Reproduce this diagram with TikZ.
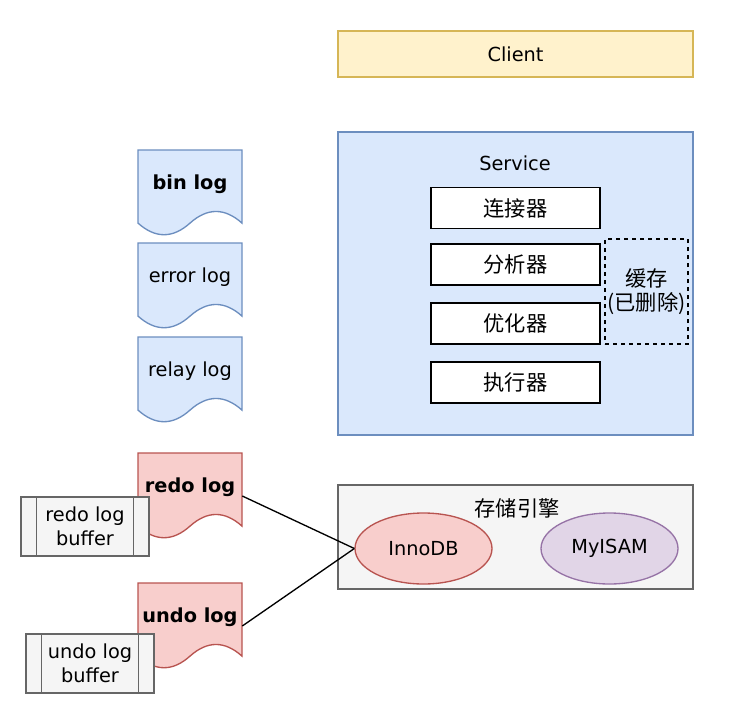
\documentclass[tikz,border=0pt]{standalone}
\usepackage{fontspec}
\setmainfont{DejaVu Sans}
\newfontfamily\cjk[Scale=1.1]{Noto Sans CJK SC}
\usetikzlibrary{shapes.geometric}
\definecolor{yelfill}{HTML}{FFF2CC}
\definecolor{yeldraw}{HTML}{D6B656}
\definecolor{bluefill}{HTML}{DAE8FC}
\definecolor{bluedraw}{HTML}{6C8EBF}
\definecolor{redfill}{HTML}{F8CECC}
\definecolor{reddraw}{HTML}{B85450}
\definecolor{grayfill}{HTML}{F5F5F5}
\definecolor{graydraw}{HTML}{666666}
\definecolor{purfill}{HTML}{E1D5E7}
\definecolor{purdraw}{HTML}{9673A6}

\begin{document}
\begin{tikzpicture}[x=0.75pt,y=-0.75pt]
\tikzstyle{every node}+=[inner sep=0pt, font=\fontsize{14.5}{18}\selectfont]
\tikzstyle{wide}=[rectangle, line width=1pt, minimum width=266.25pt]
\tikzstyle{stage}=[rectangle, draw=black, fill=white, line width=1pt, minimum width=126.75pt, minimum height=30.75pt]
\tikzstyle{bluedoc}=[draw=bluedraw, fill=bluefill, line width=1pt]
\tikzstyle{reddoc}=[draw=reddraw, fill=redfill, line width=1pt]
\tikzstyle{docbox}=[rectangle, minimum width=78pt, minimum height=64.5pt]
\tikzstyle{logbuf}=[rectangle, draw=graydraw, fill=grayfill, line width=1pt, minimum width=96pt, minimum height=44.25pt, align=center]
\tikzstyle{engine}=[ellipse, line width=1pt, minimum width=102.75pt, minimum height=53.25pt]
\tikzstyle{link}=[draw=black, line width=1pt]
\useasboundingbox (0,0) rectangle (731,710);

% client and service layer
\node[wide, draw=yeldraw, fill=yelfill, minimum height=34.5pt] (client) at (515.5,54) {Client};
\node[wide, draw=bluedraw, fill=bluefill, minimum height=227.25pt] (service) at (515.5,283.5) {};
\node (servicetxt) at (515,163) {Service};
\node[stage] (conn) at (515.5,208) {\cjk 连接器};
\node[stage] (parse) at (515.5,264.5) {\cjk 分析器};
\node[stage] (optim) at (515.5,323.5) {\cjk 优化器};
\node[stage] (exec) at (515.5,382.5) {\cjk 执行器};
\node[rectangle, draw=black, dashed, line width=1pt, minimum width=62.25pt, minimum height=78.75pt, align=center] (cache) at (646.5,291.5) {\cjk 缓存\\\cjk (已删除)};

% storage engines
\node[wide, draw=graydraw, fill=grayfill, minimum height=78pt] (storage) at (515.5,537) {};
\node (storagetxt) at (517,508) {\cjk 存储引擎};
\node[engine, draw=reddraw, fill=redfill] (innodb) at (423.5,548.5) {InnoDB};
\node[engine, draw=purdraw, fill=purfill] (myisam) at (609.5,548.5) {MyISAM};

% log files
\foreach \nm/\t/\sty/\txt in {binlog/150/bluedoc/\textbf{bin log}, errorlog/243/bluedoc/error log,
  relaylog/337/bluedoc/relay log, redo/453/reddoc/\textbf{redo log}, undo/583/reddoc/\textbf{undo log}} {
  \draw[\sty] (138,\t) -- (242,\t) -- (242,\t+73.1)
    .. controls (224.67,\t+57.6) and (207.33,\t+57.6) .. (190,\t+73.1)
    .. controls (172.67,\t+88.6) and (155.33,\t+88.6) .. (138,\t+73.1) -- cycle;
  \node[docbox] (\nm) at (190,\t+43) {};
  \node (\nm txt) at (190,\t+34) {\txt};
}

% log buffers
\node[logbuf] (redobuf) at (85,526.5) {redo log\\buffer};
\node[logbuf] (undobuf) at (90,663.5) {undo log\\buffer};
\foreach \b in {redobuf, undobuf} {
  \draw[draw=graydraw, line width=1pt] ([xshift=12]\b.north west) -- ([xshift=12]\b.south west);
  \draw[draw=graydraw, line width=1pt] ([xshift=-12]\b.north east) -- ([xshift=-12]\b.south east);
}

\draw[link] (redo.east) -- (innodb.west);
\draw[link] (undo.east) -- (innodb.west);
\end{tikzpicture}
\end{document}
